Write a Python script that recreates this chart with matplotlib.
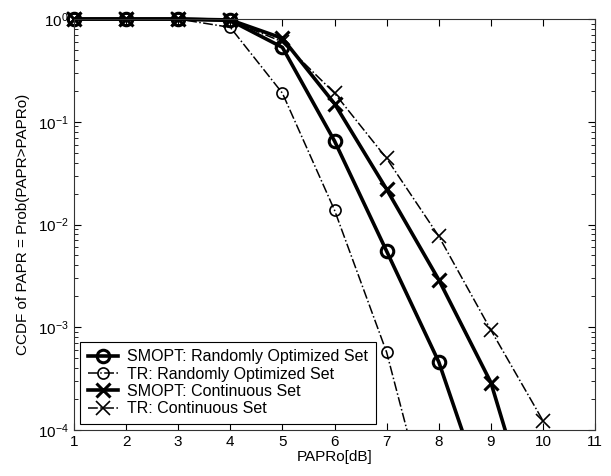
import numpy as np
import matplotlib.pyplot as plt
from matplotlib.patches import Rectangle

plt.rcParams['font.family'] = ['Liberation Sans', 'DejaVu Sans']

# PAPRo values (dB)
papr_smopt_rand = [1, 2, 3, 4, 5, 6, 7, 8, 9]
ccdf_smopt_rand = [1.0, 1.0, 1.0, 0.97, 0.53, 0.065, 0.0055, 4.6e-4, 1.5e-5]

papr_tr_rand = [1, 2, 3, 4, 5, 6, 7, 8]
ccdf_tr_rand = [1.0, 1.0, 1.0, 0.83, 0.19, 0.0138, 5.7e-4, 6.5e-6]

papr_smopt_cont = [1, 2, 3, 4, 5, 6, 7, 8, 9, 10]
ccdf_smopt_cont = [1.0, 1.0, 1.0, 0.98, 0.65, 0.15, 0.022, 0.0029, 2.9e-4, 6e-6]

papr_tr_cont = [1, 2, 3, 4, 5, 6, 7, 8, 9, 10]
ccdf_tr_cont = [1.0, 1.0, 1.0, 0.97, 0.6, 0.19, 0.044, 0.0077, 9.4e-4, 1.23e-4]

labels = ["SMOPT: Randomly Optimized Set", "TR: Randomly Optimized Set",
          "SMOPT: Continuous Set", "TR: Continuous Set"]

fig = plt.figure(figsize=(6.11, 4.76), dpi=100)
ax = fig.add_axes([0.121, 0.0966, 0.853, 0.8634])

lines = []
lines += ax.semilogy(papr_smopt_rand, ccdf_smopt_rand, 'k-o', lw=2.6, ms=9, mew=2.2,
                     mfc='none', label=labels[0])
lines += ax.semilogy(papr_tr_rand, ccdf_tr_rand, 'k-.o', lw=1.1, ms=8, mew=1.2,
                     mfc='none', label=labels[1])
lines += ax.semilogy(papr_smopt_cont, ccdf_smopt_cont, 'k-x', lw=2.6, ms=10, mew=2.2,
                     label=labels[2])
lines += ax.semilogy(papr_tr_cont, ccdf_tr_cont, 'k-.x', lw=1.1, ms=10, mew=1.2,
                     label=labels[3])

# clip only at the bottom, let top markers show above the frame
clip = Rectangle((-0.05, 0), 1.1, 1.1, transform=ax.transAxes,
                 facecolor='none', edgecolor='none')
ax.add_patch(clip)
for ln in lines:
    ln.set_clip_path(clip)

ax.set_xlim(1, 11)
ax.set_ylim(1e-4, 1)
ax.set_xticks(range(1, 12))
ax.tick_params(which='both', direction='in', top=True, right=True, labelsize=11)
ax.tick_params(which='major', length=5)
ax.tick_params(which='minor', length=3)
for s in ax.spines.values():
    s.set_color('#333333')

ax.set_xlabel("PAPRo[dB]", fontsize=11, labelpad=1)
ax.set_ylabel("CCDF of PAPR = Prob(PAPR>PAPRo)", fontsize=11, labelpad=6)

leg = ax.legend(loc='lower left', fontsize=11.5, handlelength=1.9, handletextpad=0.6,
                borderaxespad=0.4, labelspacing=0.15, fancybox=False,
                edgecolor='black', framealpha=1, borderpad=0.45)
leg.get_frame().set_linewidth(0.8)

fig.savefig("out.png", dpi=100)
